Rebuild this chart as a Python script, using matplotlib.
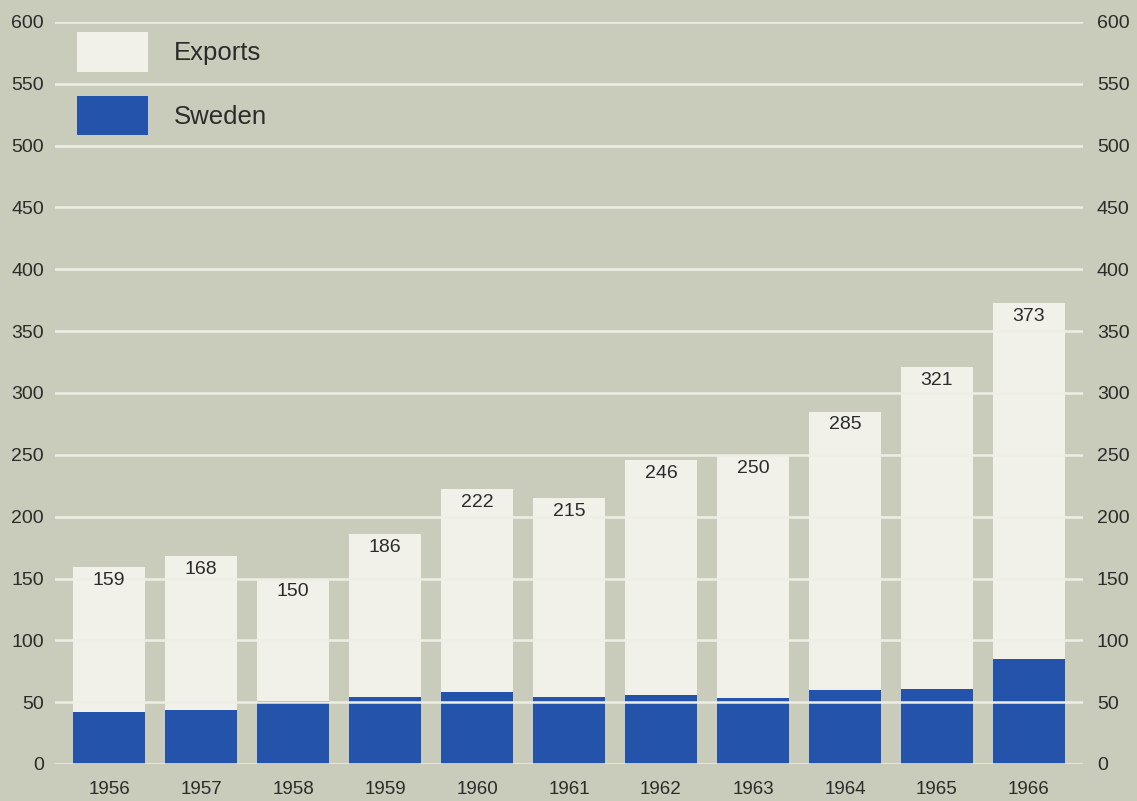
import matplotlib
matplotlib.use("Agg")
import matplotlib.pyplot as plt
from matplotlib.patches import Patch

years = ["1956", "1957", "1958", "1959", "1960", "1961", "1962", "1963", "1964", "1965", "1966"]
exports_total = [159, 168, 150, 186, 222, 215, 246, 250, 285, 321, 373]
sweden = [42, 44, 51, 54, 58, 54, 56, 53, 60, 61, 85]
yticks = [0, 50, 100, 150, 200, 250, 300, 350, 400, 450, 500, 550, 600]

bg = "#c9ccba"
white = "#f1f1ea"
blue = "#2453ab"
grid = "#eeeee6"
txt = "#2b2b2b"

plt.rcParams['font.family'] = ['Liberation Sans', 'DejaVu Sans']

W, H = 1137, 801
fig = plt.figure(figsize=(W / 100, H / 100), dpi=100)
fig.patch.set_facecolor(bg)
ax = fig.add_axes([55 / W, 1 - 764 / H, (1083 - 55) / W, (764 - 22) / H])
ax.set_facecolor(bg)

x = list(range(len(years)))
ax.bar(x, exports_total, width=0.79, color=white, zorder=2)
ax.bar(x, sweden, width=0.79, color=blue, zorder=3)

for xi, v in zip(x, exports_total):
    ax.text(xi, v - 4, str(v), ha="center", va="top", fontsize=14, color=txt, zorder=5)

for t in yticks:
    ax.axhline(t, color=grid, lw=1.8, zorder=4)

ax.set_xlim(-0.587, 10.587)
ax.set_ylim(0, 600)
ax.set_yticks(yticks)
ax.set_xticks(x)
ax.set_xticklabels(years)
ax.tick_params(axis="both", length=0, labelsize=14, colors=txt)
ax.tick_params(axis="y", pad=8)
ax.tick_params(axis="x", pad=12, labelsize=13.5)
for s in ax.spines.values():
    s.set_visible(False)

ax2 = ax.twinx()
ax2.set_ylim(0, 600)
ax2.set_yticks(yticks)
ax2.tick_params(axis="y", length=0, labelsize=14, colors=txt, pad=10)
for s in ax2.spines.values():
    s.set_visible(False)

handles = [Patch(facecolor=white, edgecolor="none", label="Exports"),
           Patch(facecolor=blue, edgecolor="none", label="Sweden")]
leg = ax2.legend(handles=handles, loc="upper left",
                 bbox_to_anchor=(77 / W, 1 - 32 / H), bbox_transform=fig.transFigure,
                 frameon=False, fontsize=18.5, handlelength=2.76, handleheight=2.0,
                 labelspacing=0.93, handletextpad=1.0, borderpad=0, borderaxespad=0,
                 labelcolor=txt)

fig.savefig("out.png", dpi=100, facecolor=bg)
